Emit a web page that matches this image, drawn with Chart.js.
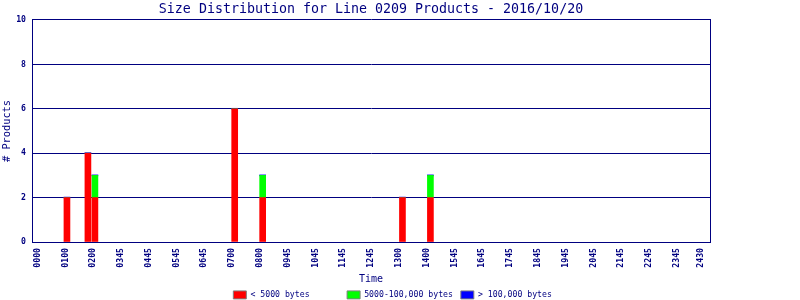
<!DOCTYPE html>
<html><head><meta charset="utf-8">
<script src="https://cdn.jsdelivr.net/npm/chart.js@4.4.1/dist/chart.umd.min.js"></script>
<style>html,body{margin:0;padding:0;background:#fff;overflow:hidden}#c{display:block}</style>
</head><body>
<canvas id="c" width="800" height="300"></canvas>
<script>
// ---- data ----
const barTimes = ['0100','0145','0200','0700','0800','1300','1400'];
const smallCounts  = [2, 4, 2, 6, 2, 2, 2];   // < 5000 bytes
const mediumCounts = [0, 0, 1, 0, 1, 0, 1];   // 5000-100,000 bytes
const largeCounts  = [0, 0, 0, 0, 0, 0, 0];   // > 100,000 bytes
const seriesNames = ['< 5000 bytes', '5000-100,000 bytes', '> 100,000 bytes'];
const tickLabels = ['0000','0100','0200','0345','0445','0545','0645','0700','0800','0945','1045','1145','1245','1300','1400','1545','1645','1745','1845','1945','2045','2145','2245','2345','2430'];
const yTicks = [0, 2, 4, 6, 8, 10];
const titleText = 'Size Distribution for Line 0209 Products - 2016/10/20';

// ---- build ----
const NAVY = '#000080';
const MONO = "'DejaVu Sans Mono', 'Liberation Mono', monospace";
const toHours = t => parseInt(t.slice(0, 2), 10) + parseInt(t.slice(2), 10) / 60;
const pts = arr => barTimes.map((t, i) => ({x: toHours(t), y: arr[i]}));

const legendPad = [19, 19, 18];

new Chart(document.getElementById('c'), {
  type: 'bar',
  data: {
    datasets: [
      {label: seriesNames[0], data: pts(smallCounts),  backgroundColor: '#ff0000', borderWidth: 0, barThickness: 6},
      {label: seriesNames[1], data: pts(mediumCounts), backgroundColor: '#00ff00', borderWidth: 0, barThickness: 6},
      {label: seriesNames[2], data: pts(largeCounts),  backgroundColor: '#0000ff', borderWidth: 0, barThickness: 6, minBarLength: 1}
    ]
  },
  options: {
    responsive: false,
    animation: false,
    devicePixelRatio: 1,
    layout: {padding: {top: 0, left: 0, right: 0, bottom: -9}},
    plugins: {
      tooltip: {enabled: false},
      title: {
        display: true, text: titleText, color: NAVY, fullSize: false,
        font: {family: MONO, size: 13.3, weight: 'normal', lineHeight: 1.2},
        padding: {top: 2, bottom: 2}
      },
      legend: {
        position: 'bottom',
        labels: {
          color: NAVY,
          font: {family: MONO, size: 8.2, weight: 'normal'},
          boxWidth: 13, boxHeight: 8, padding: 3,
          generateLabels: chart => Chart.defaults.plugins.legend.labels.generateLabels(chart).map((it, i) => {
            it.text = it.text.padEnd(legendPad[i], ' ');
            it.strokeStyle = '#808080';
            it.lineWidth = 1;
            return it;
          })
        }
      }
    },
    scales: {
      x: {
        type: 'linear', stacked: true, offset: false,
        min: -0.25, max: 24,
        grid: {display: true, drawOnChartArea: false, drawTicks: false, offset: false},
        border: {display: true, color: NAVY, width: 1},
        afterBuildTicks: scale => {
          scale.ticks = tickLabels.map((l, i) => ({value: i < tickLabels.length - 1 ? -0.05 + i * 0.994 : 23.67}));
        },
        afterFit: scale => { scale.height = 309 - 21.2 - 242; },
        ticks: {
          autoSkip: false, minRotation: 90, maxRotation: 90, padding: 6,
          color: NAVY, font: {family: MONO, size: 8.2, weight: 'bold'},
          callback: (v, i) => tickLabels[i]
        },
        title: {display: true, text: 'Time', color: NAVY, font: {family: MONO, size: 10}, padding: {top: 0, bottom: 2.5}}
      },
      y: {
        stacked: true, min: 0, max: 10,
        afterBuildTicks: scale => { scale.ticks = yTicks.map(v => ({value: v})); },
        afterFit: scale => { scale.width = 32; },
        grid: {color: NAVY, lineWidth: 1, drawTicks: false},
        border: {display: true, color: NAVY, width: 1},
        ticks: {padding: 6, color: NAVY, font: {family: MONO, size: 8.2, weight: 'bold'}},
        title: {display: true, text: '# Products', color: NAVY, font: {family: MONO, size: 10.3}, padding: {top: 1.3, bottom: 0}}
      },
      y2: {
        position: 'right', min: 0, max: 10,
        grid: {drawOnChartArea: false, drawTicks: false},
        border: {display: true, color: NAVY, width: 1},
        ticks: {display: false},
        afterFit: scale => { scale.width = 90; }
      }
    }
  }
});
</script>
</body></html>
